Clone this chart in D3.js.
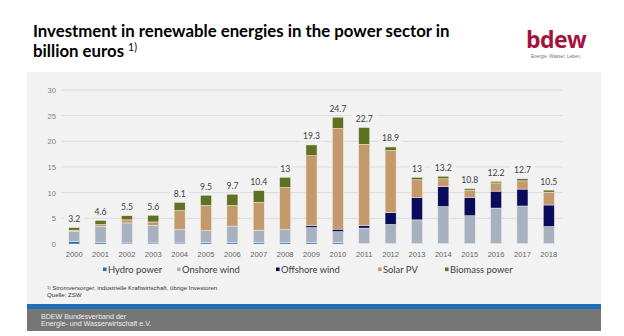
<!DOCTYPE html>
<html>
<head>
<meta charset="utf-8">
<script src="https://cdn.jsdelivr.net/npm/d3@7"></script>
<style>
  html, body { margin: 0; padding: 0; background: #fff; }
  svg { display: block; }
</style>
</head>
<body>
<svg width="624" height="336"></svg>
<script>
// data
// ----------------------------------
const years = ['2000', '2001', '2002', '2003', '2004', '2005', '2006', '2007',
  '2008', '2009', '2010', '2011', '2012', '2013', '2014', '2015', '2016',
  '2017', '2018'];
const hydro = [0.5, 0.3, 0.2, 0.2, 0.2, 0.3, 0.3, 0.3, 0.3, 0.3, 0.3, 0.1,
  0.1, 0.1, 0.1, 0.1, 0.1, 0.1, 0.1];
const onshore = [1.9, 3.1, 3.9, 3.4, 2.6, 2.3, 3.2, 2.4, 2.5, 2.9, 2.1, 3.0,
  3.7, 4.6, 7.2, 5.4, 6.9, 7.3, 3.3];
const offshore = [0, 0, 0, 0, 0, 0, 0, 0, 0, 0.4, 0.5, 0.5, 2.3, 4.4, 3.9,
  3.6, 3.3, 3.3, 4.2];
const solar = [0.3, 0.4, 0.6, 0.7, 3.7, 4.9, 4.0, 5.4, 8.2, 13.6, 19.6, 15.8,
  12.1, 3.4, 1.5, 1.4, 1.6, 1.6, 2.5];
const biomass = [0.5, 0.8, 0.8, 1.3, 1.6, 2.0, 2.2, 2.3, 2.0, 2.1, 2.2, 3.3,
  0.7, 0.5, 0.5, 0.3, 0.3, 0.4, 0.4];
const totals = [3.2, 4.6, 5.5, 5.6, 8.1, 9.5, 9.7, 10.4, 13, 19.3, 24.7, 22.7,
  18.9, 13, 13.2, 10.8, 12.2, 12.7, 10.5];
const yTicks = [0, 5, 10, 15, 20, 25, 30];

const seriesNames = ['Hydro power', 'Onshore wind', 'Offshore wind',
  'Solar PV', 'Biomass power'];
const seriesColors = ['#2e6cb4', '#a7b1c0', '#0b0b5c', '#c49a6c', '#5f7122'];

const rows = years.map((yr, i) => ({
  year: yr,
  'Hydro power': hydro[i],
  'Onshore wind': onshore[i],
  'Offshore wind': offshore[i],
  'Solar PV': solar[i],
  'Biomass power': biomass[i],
  total: totals[i],
}));

// 0. setup groups
// ----------------------------------
const svg = d3.select('svg');
const panelFill = '#f2f2f2';

// title
const title = svg.append('g')
    .attr('font-family', 'Lato, "Open Sans", sans-serif')
    .attr('font-weight', 700)
    .attr('fill', '#000');
title.append('text')
    .attr('x', 33)
    .attr('y', 37)
    .attr('font-size', 16.8)
    .text('Investment in renewable energies in the power sector in');
const line2 = title.append('text')
    .attr('x', 33)
    .attr('y', 57)
    .attr('font-size', 16.8);
line2.append('tspan').text('billion euros ');
line2.append('tspan')
    .attr('font-size', 10.5)
    .attr('font-weight', 400)
    .attr('dy', -6)
    .text('1)');

// logo
svg.append('text')
    .attr('x', 556)
    .attr('y', 48)
    .attr('text-anchor', 'middle')
    .attr('font-family', '"Open Sans", sans-serif')
    .attr('font-weight', 700)
    .attr('font-size', 23)
    .attr('letter-spacing', -0.6)
    .attr('fill', '#a5123d')
    .text('bdew');
svg.append('text')
    .attr('x', 556)
    .attr('y', 58)
    .attr('text-anchor', 'middle')
    .attr('font-family', '"Liberation Sans", sans-serif')
    .attr('font-size', 4.6)
    .attr('fill', '#777')
    .text('Energie. Wasser. Leben.');

// 1. panel and footer
// ----------------------------------
svg.append('rect')
    .attr('x', 27)
    .attr('y', 72)
    .attr('width', 574)
    .attr('height', 233)
    .attr('fill', panelFill);
svg.append('rect')
    .attr('x', 27)
    .attr('y', 304)
    .attr('width', 574)
    .attr('height', 5)
    .attr('fill', '#1f6fb8');
svg.append('rect')
    .attr('x', 27)
    .attr('y', 309)
    .attr('width', 574)
    .attr('height', 22)
    .attr('fill', '#767676');

const foot = svg.append('g')
    .attr('font-family', '"Liberation Sans", Arial, sans-serif')
    .attr('font-size', 7.1)
    .attr('fill', '#eeeeee');
foot.append('text').attr('x', 41).attr('y', 318.5)
    .text('BDEW Bundesverband der');
foot.append('text').attr('x', 41).attr('y', 325.5)
    .text('Energie- und Wasserwirtschaft e.V.');

// 2. scales and axes
// ----------------------------------
const x = d3.scaleBand()
    .domain(years)
    .range([61, 562])
    .paddingInner(0.58)
    .paddingOuter(0.29);
const y = d3.scaleLinear()
    .domain([0, 30])
    .range([244, 90]);

const grid = svg.append('g');
grid.selectAll('line')
    .data(yTicks.filter((t) => t > 0))
    .enter()
    .append('line')
    .attr('x1', 61)
    .attr('x2', 563)
    .attr('y1', (d) => y(d))
    .attr('y2', (d) => y(d))
    .attr('stroke', '#dcdcdc')
    .attr('stroke-width', 1);

const yAxis = svg.append('g')
    .attr('transform', 'translate(56,0)')
    .call(d3.axisLeft(y).tickValues(yTicks).tickSize(0).tickPadding(0));
yAxis.select('.domain').remove();
yAxis.selectAll('text')
    .attr('font-family', '"Liberation Sans", Arial, sans-serif')
    .attr('font-size', 7.6)
    .attr('fill', '#808080');

const xAxis = svg.append('g')
    .attr('transform', 'translate(0,244)')
    .call(d3.axisBottom(x).tickSize(0).tickPadding(8));
xAxis.select('.domain').remove();
xAxis.selectAll('text')
    .attr('font-family', '"Liberation Sans", Arial, sans-serif')
    .attr('font-size', 7.6)
    .attr('fill', '#666');

// 3. stacked bars
// ----------------------------------
const stacked = d3.stack().keys(seriesNames)(rows);

const layers = svg.append('g').selectAll('g')
    .data(stacked)
    .enter()
    .append('g')
    .attr('fill', (d, i) => seriesColors[i]);

layers.selectAll('rect')
    .data((d) => d.filter((s) => s[1] - s[0] > 0))
    .enter()
    .append('rect')
    .attr('x', (d) => x(d.data.year))
    .attr('width', x.bandwidth())
    .attr('y', (d) => y(d[1]))
    .attr('height', (d) => y(d[0]) - y(d[1]))
    .attr('stroke', '#f4f1ea')
    .attr('stroke-width', 0.5);

// 4. total labels
// ----------------------------------
const labels = svg.append('g').selectAll('g')
    .data(rows)
    .enter()
    .append('g')
    .attr('transform', (d) =>
      `translate(${x(d.year) + x.bandwidth() / 2},${y(d.total) - 5.5})`);

labels.append('rect')
    .attr('x', (d) => -String(d.total).length * 2.6 - 2)
    .attr('y', -7)
    .attr('width', (d) => String(d.total).length * 5.2 + 4)
    .attr('height', 9)
    .attr('fill', panelFill);

labels.append('text')
    .attr('text-anchor', 'middle')
    .attr('font-family', 'Lato, "Open Sans", sans-serif')
    .attr('font-size', 8.6)
    .attr('fill', '#404040')
    .text((d) => d.total);

// 5. legend
// ----------------------------------
const legendX = [103, 177, 276, 378, 445];
const legend = svg.append('g').selectAll('g')
    .data(seriesNames)
    .enter()
    .append('g')
    .attr('transform', (d, i) => `translate(${legendX[i]},271)`);

legend.append('rect')
    .attr('x', 0)
    .attr('y', -3.5)
    .attr('width', 3.6)
    .attr('height', 3.6)
    .attr('fill', (d, i) => seriesColors[i]);

legend.append('text')
    .attr('x', 5)
    .attr('y', 1.5)
    .attr('font-family', 'Lato, "Open Sans", sans-serif')
    .attr('font-size', 9.4)
    .attr('fill', '#404040')
    .text((d) => d);

// footnote
const note = svg.append('g')
    .attr('font-family', '"Liberation Sans", Arial, sans-serif')
    .attr('font-size', 6.1)
    .attr('fill', '#333');
const n1 = note.append('text').attr('x', 47).attr('y', 290);
n1.append('tspan').attr('font-size', 4).attr('dy', -1.5).text('1)');
n1.append('tspan').attr('dy', 1.5)
    .text(' Stromversorger, industrielle Kraftwirtschaft, übrige Investoren');
note.append('text').attr('x', 47).attr('y', 296.5).text('Quelle: ZSW');
</script>
</body>
</html>
